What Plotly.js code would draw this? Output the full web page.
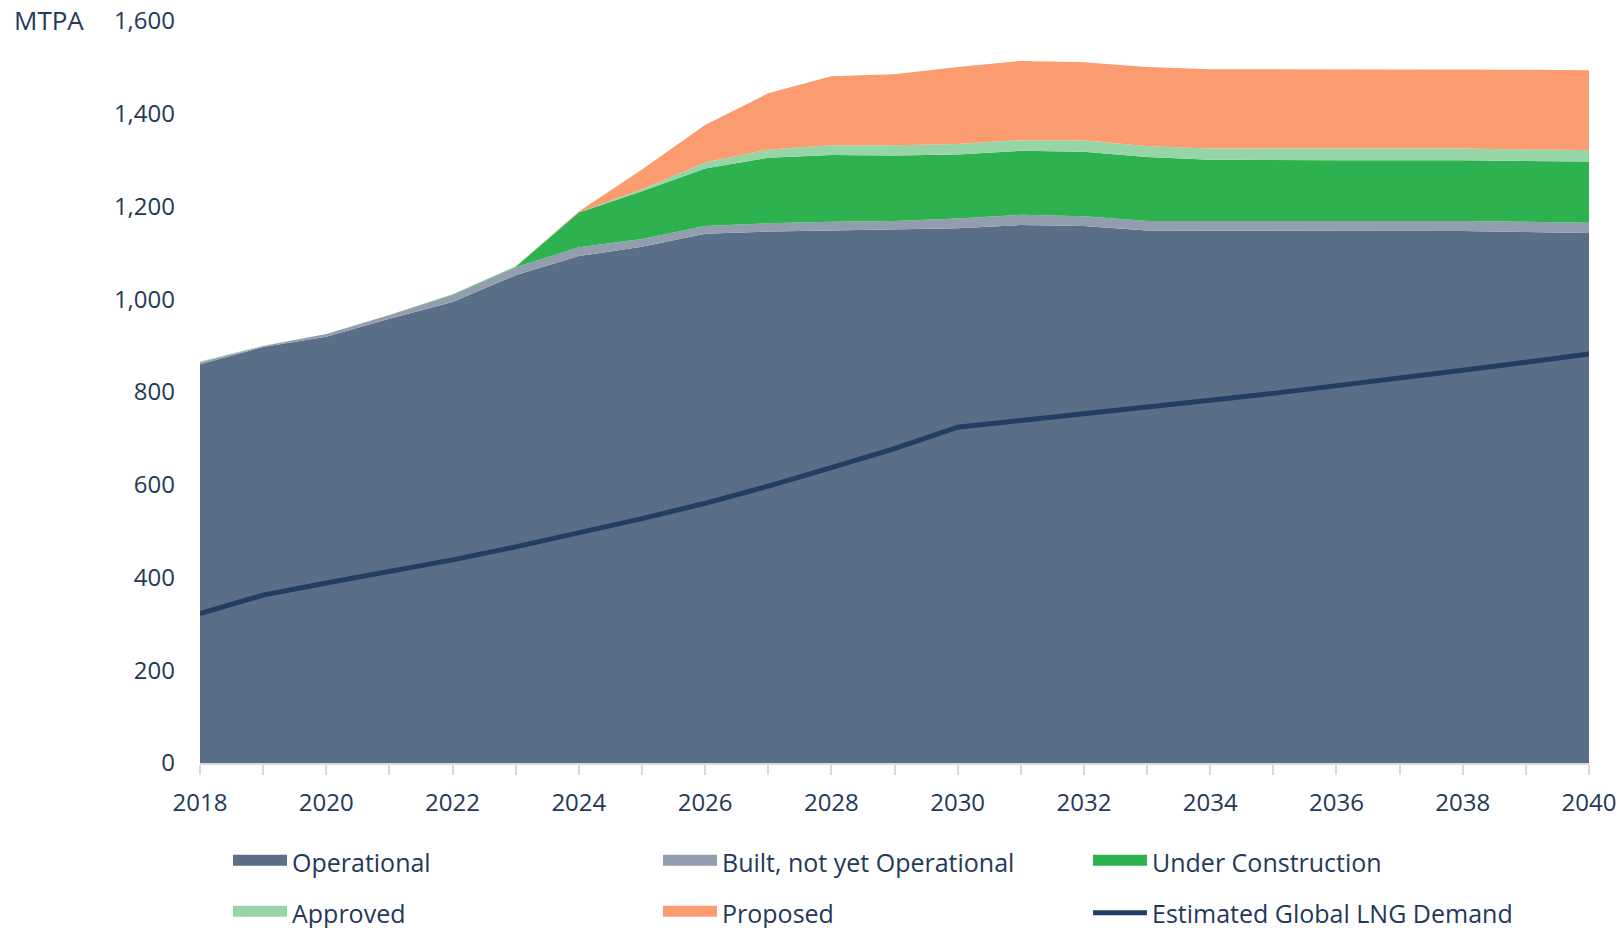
<!DOCTYPE html>
<html>
<head>
<meta charset="utf-8">
<script src="https://cdn.plot.ly/plotly-3.0.1.min.js"></script>
<style>
  html, body { margin: 0; padding: 0; background: #fff; }
  #chart { width: 1619px; height: 928px; }
</style>
</head>
<body>
<div id="chart"></div>
<script>
// years on the x axis
var years = [2018, 2019, 2020, 2021, 2022, 2023, 2024, 2025, 2026, 2027, 2028, 2029,
             2030, 2031, 2032, 2033, 2034, 2035, 2036, 2037, 2038, 2039, 2040];

// capacity by status, MTPA (stacked)
var operational = [860, 897, 919, 958, 994, 1052, 1093, 1113, 1141, 1146, 1148, 1150,
                   1153, 1160, 1158, 1148, 1148, 1147, 1147, 1147, 1147, 1145, 1143];
var builtNotOperational = [4, 2, 6, 8, 15, 17, 19, 17, 17, 18, 19, 19,
                           21, 22, 21, 21, 21, 22, 22, 22, 22, 22, 22];
var underConstruction = [0, 0, 0, 0, 1, 1, 75, 103, 124, 141, 144, 141,
                         138, 138, 139, 138, 132, 131, 131, 131, 131, 131, 132];
var approved = [2, 1, 0, 0, 1, 1, 0, 4, 13, 18, 21, 22,
                23, 23, 25, 23, 24, 25, 25, 25, 25, 25, 25];
var proposed = [0, 0, 0, 0, 0, 0, 2, 43, 81, 121, 149, 153,
                166, 171, 168, 171, 171, 171, 171, 171, 171, 172, 172];

// estimated global LNG demand, MTPA
var demand = [322, 362, 388, 412, 438, 466, 496, 527, 560, 597, 637, 678,
              724, 738, 752, 767, 782, 797, 813, 830, 847, 864, 882];

var seriesNames = ['Operational', 'Built, not yet Operational', 'Under Construction',
                   'Approved', 'Proposed'];
var seriesColors = ['#5b6e87', '#929eae', '#2eb24f', '#96d6a6', '#fb9b70'];
var seriesValues = [operational, builtNotOperational, underConstruction, approved, proposed];
var demandName = 'Estimated Global LNG Demand';
var demandColor = '#233e62';

var textColor = '#253858';
var fontFamily = '"Open Sans", "Noto Sans", sans-serif';
var font = {family: fontFamily, size: 24, color: textColor};

var data = [];
// stacked areas (legend drawn by separate swatch traces below)
seriesValues.forEach(function(vals, i) {
  data.push({
    x: years, y: vals, name: seriesNames[i],
    type: 'scatter', mode: 'lines', stackgroup: 'cap',
    line: {width: 0, color: seriesColors[i]}, fillcolor: seriesColors[i],
    showlegend: false, hoverinfo: 'skip'
  });
});
data.push({
  x: years, y: demand, name: demandName,
  type: 'scatter', mode: 'lines',
  line: {width: 5, color: demandColor},
  showlegend: false, hoverinfo: 'skip'
});

// legend-only swatches, 3 per row
seriesNames.forEach(function(nm, i) {
  data.push({
    x: [null], y: [null], name: nm, type: 'scatter', mode: 'lines',
    fill: 'tozeroy', fillcolor: seriesColors[i],
    line: {width: 10, color: seriesColors[i]},
    legend: i < 3 ? 'legend' : 'legend2', hoverinfo: 'skip'
  });
});
data.push({
  x: [null], y: [null], name: demandName, type: 'scatter', mode: 'lines',
  line: {width: 5, color: demandColor},
  legend: 'legend2', hoverinfo: 'skip'
});

var legendBase = {
  orientation: 'h', xref: 'container', yref: 'container',
  x: 228 / 1619, xanchor: 'left', yanchor: 'middle',
  entrywidth: 361, entrywidthmode: 'pixels',
  itemwidth: 54, traceorder: 'normal',
  font: {family: fontFamily, size: 25, color: textColor},
  itemclick: false, itemdoubleclick: false
};

var layout = {
  width: 1619, height: 928,
  margin: {l: 200, r: 30, t: 21, b: 165},
  paper_bgcolor: '#fff', plot_bgcolor: '#fff',
  font: font,
  showlegend: true,
  legend: Object.assign({}, legendBase, {y: 1 - 862 / 928}),
  legend2: Object.assign({}, legendBase, {y: 1 - 913 / 928}),
  xaxis: {
    range: [2018, 2040], dtick: 2, tick0: 2018,
    showgrid: false, zeroline: false,
    showline: true, linecolor: '#d9d9d9', linewidth: 2,
    ticks: 'outside', ticklen: 10, tickcolor: '#d9d9d9', tickwidth: 2,
    minor: {dtick: 1, ticks: 'outside', ticklen: 10, tickcolor: '#d9d9d9', tickwidth: 2},
    ticklabelstandoff: 7,
    tickfont: font
  },
  yaxis: {
    range: [0, 1600], dtick: 200, tickformat: ',d',
    showgrid: false, zeroline: false, showline: false,
    ticklabelstandoff: 24,
    tickfont: font
  },
  annotations: [{
    text: 'MTPA', xref: 'paper', yref: 'paper',
    x: -188 / 1389, y: 1, xanchor: 'left', yanchor: 'middle', yshift: 1,
    showarrow: false, font: {family: fontFamily, size: 26, color: textColor}
  }]
};

Plotly.newPlot('chart', data, layout, {displayModeBar: false, staticPlot: true});
</script>
</body>
</html>
